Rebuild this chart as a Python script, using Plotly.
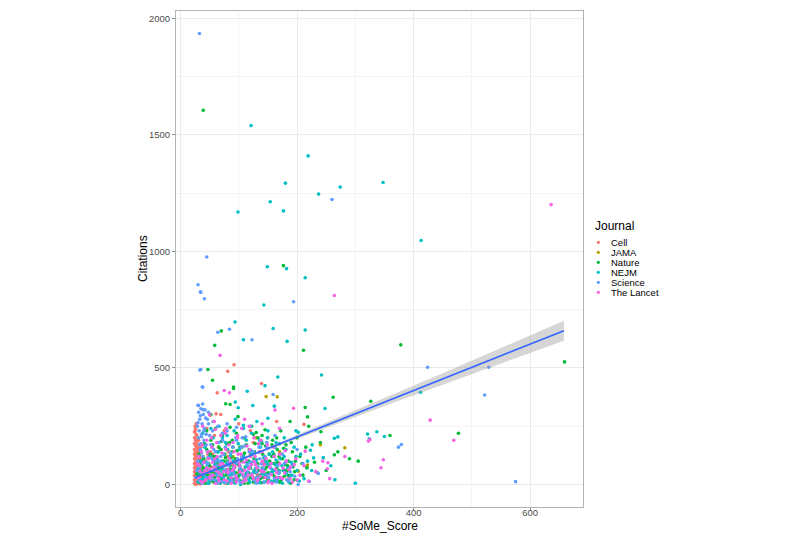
import plotly.graph_objects as go

# ---------------- data ----------------
journals = ["Cell", "JAMA", "Nature", "NEJM", "Science", "The Lancet"]
colors = ["#F8766D", "#B79F00", "#00BA38", "#00BFC4", "#619CFF", "#F564E3"]

cell_x = [24,24,24,24,24,24,24,24,24,24,24,24,
          26,26,26,26,26,26,26,26,26,26,26,26,
          28,28,28,28,28,28,28,28,28,28,28,
          30,30,30,30,30,30,30,30,30,30,
          32,32,32,32,32,32,32,32,
          34,34,34,34,34,34,34,
          36,36,36,36,36,
          38,40,42,44,46,48,50,52,55,57,60,63,65,68,71,74,78,82,86,90,95,100,106,112,118,125,132,140,150,160,172,185,
          51,61,69,63,81,92,139,212,45,58,75,100,120,150,165]
cell_y = [5,20,38,55,72,90,110,130,150,175,200,225,
          0,14,30,47,63,80,98,120,140,165,190,240,
          8,25,42,58,76,95,115,135,158,182,210,
          3,18,35,52,68,86,105,125,148,170,
          10,28,45,62,82,100,122,145,
          2,22,40,60,78,96,118,
          12,30,50,70,92,
          15,40,8,65,25,90,12,55,130,30,75,10,160,45,100,20,60,140,35,85,15,50,120,28,70,180,40,95,22,60,110,35,
          297,303,300,393,486,514,433,258,240,210,230,260,230,200,270]
cell_x2 = [25,27,29,31,33,35,37,25,27,29,31,33,35,37,39,41,43,45,47,49,
           53,56,59,62,66,70,73,77,81,85,89,94,98,103,108,114,120,127,135,143,27,31,35,39,43,47,51,55]
cell_y2 = [230,215,195,160,135,110,80,250,45,128,118,75,140,105,55,20,100,5,130,48,
           75,18,110,60,30,150,80,5,120,55,10,100,35,70,15,45,130,60,25,85,260,190,160,120,170,60,140,35]

jama_x = [147,166,282,218,202,60,90,110,130,75,170,185,240]
jama_y = [377,376,157,83,57,45,120,30,200,15,140,60,170]

nature_x = [39,176.6,70,58.7,47,55,91,91,211,378,659,262,326.5,214,218,241,264,305,208.5,216.5,359.5,477,217,
            77.5,85,52,98.6,130,
            35,38,40,42,45,47,50,52,54,56,58,60,62,64,66,68,70,72,74,76,78,80,82,84,86,88,90,92,94,96,98,
            100,102,104,106,108,110,112,114,116,118,120,122,124,126,128,130,132,134,136,138,140,142,144,146,148,
            150,152,155,158,160,163,166,169,172,175,178,181,184,188,192,196,200,205,210,215,220,230,240,250,270,290,
            30,32,36,44,48,55,63,71,79,87,93,101,109,117,127,137,147,157,167,177,187,197]
nature_y = [1606,939,659,597,493,447,418,412,576,599,526,374,357,330,290,226,127,100,90,73,210,220,71,
            346,343,300,291,223,
            20,60,110,5,150,35,80,190,15,120,50,240,8,95,160,30,70,210,12,130,55,100,25,180,65,140,10,45,110,220,30,
            85,160,15,60,125,200,40,95,5,150,70,250,25,110,175,50,90,10,140,60,210,30,100,165,75,
            20,130,50,190,90,15,150,60,230,110,35,170,80,270,140,55,200,120,40,160,250,95,180,60,140,110,
            45,130,85,70,5,170,140,20,175,115,75,40,5,100,140,25,45,120,95,65,25,100]
nature_x2 = [33,37,41,46,51,57,61,65,69,73,77,81,85,89,93,97,101,105,109,113,
             117,121,125,129,133,137,141,145,149,153,157,161,165,169,173,177,181,185,189,193,
             40,50,60,70,80,90,100,110,120,130,140,150,160,170,180,190,45,65,85,105,125,145,165]
nature_y2 = [100,15,175,40,130,10,95,60,150,40,115,5,80,190,25,145,60,100,30,170,
             50,125,10,85,200,40,130,65,15,100,170,35,70,120,20,155,55,100,5,75,
             70,35,120,185,45,160,20,135,30,105,175,50,130,10,85,180,230,75,245,160,215,235,200]
nature_x3 = [28,34,39,43,48,53,59,64,68,74,79,84,88,95,99,104,111,115,122,128,
             134,139,146,152,158,164,171,179,186,195]
nature_y3 = [45,8,70,25,90,55,30,80,5,100,40,65,18,50,85,12,75,45,95,25,
             60,8,35,80,45,90,12,60,38,20]

nejm_x = [121,219,180,347.6,274,237,154,176.6,98.6,413,149,182,214,143,93.5,159,108,214,183,167,145,242,248,
          264,270,321,324,337,350,412,300,201,223,228.5,225,198,202,114.5,94,124,99,108,150,161,
          30,33,36,39,42,45,48,50,53,56,59,62,65,68,71,74,77,80,83,86,89,92,95,98,101,104,107,110,113,116,119,
          122,125,128,131,134,137,140,143,146,149,152,155,158,161,164,167,170,174,178,182,186,190,195,200,206,
          212,218,226,235,245,258,265]
nejm_y = [1540,1410,1293,1296,1276,1246,1213,1174,1169,1047,934,926,887,770,697,669,621,663,614,461,424,470,326,
          198,204,216,196,226,206,396,5,17,147,114,60,230,224,400,354,339,329,254,284,336,
          10,50,100,25,160,70,5,120,40,200,85,15,140,55,100,30,180,65,8,125,45,230,90,20,150,60,110,35,190,75,10,
          130,50,95,270,20,160,70,115,40,200,85,15,140,60,105,30,175,80,120,45,10,95,160,60,130,
          25,100,170,50,115,80,20]
nejm_x2 = [35,40,44,49,54,58,63,67,72,76,81,85,90,94,99,103,108,112,117,121,
           126,130,135,139,144,148,153,157,162,166,171,176,181,187,192,198,
           38,52,66,80,94,108,122,136,150,164,178,47,75,103,131,159]
nejm_y2 = [140,35,95,15,160,60,110,25,200,80,150,40,100,5,175,45,120,75,20,145,
           60,105,35,185,10,90,130,50,160,20,110,60,150,30,85,120,
           220,240,250,210,280,240,220,190,230,180,200,5,10,0,8,12]
nejm_x3 = [31,36,41,46,52,57,62,69,73,79,84,91,96,102,106,113,118,124,129,136,
           141,147,151,158,163,169,175,184,191,204]
nejm_y3 = [70,20,55,85,30,100,48,12,65,90,22,58,35,80,10,50,95,28,68,8,
           45,100,30,62,85,48,5,70,40,15]

science_x = [32.5,45,30,34,35,41,260,194,84,64,122.6,33,35,38,424,529,522,374,379,575,236.5,221,202,159,37.6,31,38.8,
             30,31,33,35,37,39,41,43,32,36,40,44,48,52,34,38,42,46,50,54,58,62,66,70,74,78,82,86,90,94,98,102,106,
             110,114,118,122,126,130,135,140,145,150,156,162,168,175,182,190,200,210,
             28,30,32,35,38,45,55,60,65,72,80,88,96,108,120,133,148,165]
science_y = [1935,976,857,827,824,797,1223,784,666,653,621,491,493,417,503,503,384,160,171,12,47,13,0,386,419,339,321,
             340,310,280,325,260,300,240,285,230,205,190,215,260,170,150,120,95,140,60,110,20,80,180,40,130,8,95,55,160,25,110,70,200,
             15,85,140,45,100,5,160,60,120,30,90,210,50,130,20,75,150,90,
             60,100,20,175,45,30,230,140,5,220,260,10,190,35,250,75,180,10]
science_x2 = [29,31,33,36,38,41,44,47,50,53,57,61,65,69,73,77,82,86,91,95,
              100,105,110,115,120,125,130,136,142,148,154,160,167,174,181,188,
              30,34,38,42,46,40,36,48,56,64,72,80,88,96,104,112]
science_y2 = [250,200,170,135,90,60,170,115,210,35,150,100,55,120,80,160,45,135,75,200,
              20,115,165,55,95,140,30,110,70,160,45,120,80,25,100,55,
              265,295,345,320,280,230,215,310,270,250,190,230,15,245,160,205]
science_x3 = [27,33,37,42,47,52,58,63,67,71,76,83,87,92,97,103,109,114,119,126,
              131,138,143,149,155,161,169,178,185,196]
science_y3 = [30,75,5,50,90,20,65,38,100,12,58,82,28,45,95,8,62,35,78,18,
              52,88,10,40,70,25,55,90,15,35]

lancet_x = [636,264,68,428.5,469,348,344,282,253,252,214,325,322.5,162,194,
            30,33,36,39,42,45,48,51,54,57,60,63,66,69,72,75,78,81,84,87,90,93,96,99,102,105,108,111,114,117,120,
            123,126,129,132,135,138,141,145,149,153,157,161,165,170,175,180,186,192,198,205,212,220,232,244,256,
            60,75,84,50,110,140,170]
lancet_y = [1201,811,554,276,190,106,72,120,93,67,143,193,186,319,327,
            30,80,140,10,60,190,110,35,160,75,5,120,50,210,90,20,150,65,110,30,180,80,10,130,55,240,95,25,165,70,120,
            40,200,85,15,140,60,100,30,170,75,5,120,50,90,25,145,65,10,110,40,80,15,55,100,25,
            236,403,393,300,280,260,240]
lancet_x2 = [31,34,37,40,43,47,50,53,56,59,62,65,68,71,74,77,80,83,86,89,
             92,95,98,101,104,107,110,113,116,119,122,125,128,131,134,137,140,143,147,151,
             155,160,165,170,176,182,188,195,38,58,78,98,118,138]
lancet_y2 = [120,55,170,95,20,140,65,200,40,110,180,25,85,135,55,220,15,170,95,60,
             140,35,200,80,130,10,60,105,40,150,85,25,120,70,175,35,140,55,110,15,
             90,160,30,130,70,100,25,85,250,270,240,210,250,190]
lancet_x3 = [29,35,40,45,50,55,61,66,70,76,81,87,92,97,101,107,112,118,123,127,
             133,139,144,150,156,163,171,179,189,200]
lancet_y3 = [88,12,48,72,28,95,58,15,40,80,52,5,68,25,92,45,18,70,38,98,
             22,55,85,8,42,65,30,50,75,20]

# linear fit (geom_smooth, method = "lm")
fit_x = [24.5, 80, 150, 250, 350, 450, 550, 658]
fit_y = [29, 84.3, 154.0, 253.6, 353.2, 452.8, 552.4, 660]
fit_hw = [5, 3, 6, 11, 17, 24, 33, 43]

series = [
    (cell_x + cell_x2, cell_y + cell_y2),
    (jama_x, jama_y),
    (nature_x + nature_x2 + nature_x3, nature_y + nature_y2 + nature_y3),
    (nejm_x + nejm_x2 + nejm_x3, nejm_y + nejm_y2 + nejm_y3),
    (science_x + science_x2 + science_x3, science_y + science_y2 + science_y3),
    (lancet_x + lancet_x2 + lancet_x3, lancet_y + lancet_y2 + lancet_y3),
]

# ---------------- figure ----------------
fig = go.Figure()

for name, col, (xs, ys) in zip(journals, colors, series):
    n = min(len(xs), len(ys))
    fig.add_trace(go.Scatter(x=xs[:n], y=ys[:n], mode="markers", name=name,
                             marker=dict(color=col, size=3.6, line=dict(width=0)),
                             showlegend=False, hoverinfo="skip"))

band_x = fit_x + fit_x[::-1]
band_y = [y + h for y, h in zip(fit_y, fit_hw)] + [y - h for y, h in zip(fit_y[::-1], fit_hw[::-1])]
fig.add_trace(go.Scatter(x=band_x, y=band_y, fill="toself", mode="lines",
                         line=dict(width=0), fillcolor="rgba(153,153,153,0.4)",
                         showlegend=False, hoverinfo="skip"))
fig.add_trace(go.Scatter(x=fit_x, y=fit_y, mode="lines",
                         line=dict(color="#3366FF", width=1.6),
                         showlegend=False, hoverinfo="skip"))

all_x = [v for xs, _ in series for v in xs]
all_y = [v for _, ys in series for v in ys]
xmin, xmax = min(all_x), max(all_x)
ymin, ymax = min(all_y), max(all_y)
xpad = 0.05 * (xmax - xmin)
ypad = 0.05 * (ymax - ymin)

L, R, T, B = 176, 583, 11, 507
W, H = 800, 537
PW, PH = R - L, B - T

font_family = "Liberation Sans, Arial, Helvetica, sans-serif"
grid_major = "#EBEBEB"
grid_minor = "#F4F4F4"

axis_common = dict(
    showline=True, linecolor="#B3B3B3", linewidth=1, mirror=True,
    ticks="outside", ticklen=3, tickcolor="#8C8C8C", tickwidth=1,
    showgrid=True, gridcolor=grid_major, gridwidth=1,
    zeroline=False,
    tickfont=dict(family=font_family, size=9.5, color="#4D4D4D"),
)

fig.update_layout(
    width=W, height=H,
    margin=dict(l=L, r=W - R, t=T, b=H - B),
    paper_bgcolor="white", plot_bgcolor="white",
    showlegend=False,
    xaxis=dict(range=[xmin - xpad, xmax + xpad], tickvals=[0, 200, 400, 600],
               ticklabelstandoff=-6,
               minor=dict(dtick=100, tick0=0, showgrid=True, gridcolor=grid_minor, gridwidth=0.6, ticks=""),
               **axis_common),
    yaxis=dict(range=[ymin - ypad, ymax + ypad], tickvals=[0, 500, 1000, 1500, 2000],
               minor=dict(dtick=250, tick0=0, showgrid=True, gridcolor=grid_minor, gridwidth=0.6, ticks=""),
               **axis_common),
)

def px_to_paper(px, py):
    return (px - L) / PW, (B - py) / PH

annotations = []
ax_, ay_ = px_to_paper((L + R) / 2, 526)
annotations.append(dict(text="#SoMe_Score", x=ax_, y=ay_, xref="paper", yref="paper",
                        showarrow=False, xanchor="center", yanchor="middle",
                        font=dict(family=font_family, size=12, color="black")))
ax_, ay_ = px_to_paper(143, (T + B) / 2)
annotations.append(dict(text="Citations", x=ax_, y=ay_, xref="paper", yref="paper",
                        showarrow=False, xanchor="center", yanchor="middle", textangle=-90,
                        font=dict(family=font_family, size=12, color="black")))

# legend (drawn manually to match ggplot's compact key spacing)
tx, ty = px_to_paper(593, 226)
annotations.append(dict(text="Journal", x=tx, y=ty, xref="paper", yref="paper",
                        showarrow=False, xanchor="left", yanchor="middle",
                        font=dict(family=font_family, size=12, color="black")))
shapes = []
for i, (name, col) in enumerate(zip(journals, colors)):
    yy = 242.3 + 10 * i
    mx, my = px_to_paper(598.3, yy)
    shapes.append(dict(type="circle", xref="paper", yref="paper",
                       xsizemode="pixel", ysizemode="pixel", xanchor=mx, yanchor=my,
                       x0=-1.6, x1=1.6, y0=-1.6, y1=1.6,
                       fillcolor=col, line=dict(width=0)))
    lx, ly = px_to_paper(608.5, yy)
    annotations.append(dict(text=name, x=lx, y=ly, xref="paper", yref="paper",
                            showarrow=False, xanchor="left", yanchor="middle",
                            font=dict(family=font_family, size=9.5, color="black")))

fig.update_layout(annotations=annotations, shapes=shapes)

fig.write_html("out.html", config={"displayModeBar": False},
               post_script="document.body.style.margin='0px';document.body.style.overflow='hidden';")
